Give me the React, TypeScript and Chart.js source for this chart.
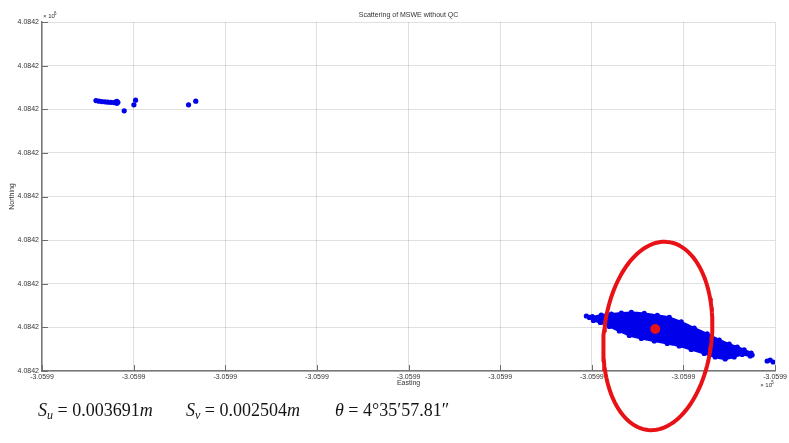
import React, { useEffect, useRef } from 'react';
import { Chart, registerables } from 'chart.js';

Chart.register(...registerables);

// ---- Text ----
const TITLE = 'Scattering of MSWE without QC';
const X_LABEL = 'Easting';
const Y_LABEL = 'Northing';
const X_EXP = '5';
const Y_EXP = '6';

// ---- Axis ticks (local grid units, labels as printed) ----
const X_TICKS = [0, 1, 2, 3, 4, 5, 6, 7, 8];
const X_TICK_LABELS = ['-3.0599', '-3.0599', '-3.0599', '-3.0599', '-3.0599', '-3.0599', '-3.0599', '-3.0599', '-3.0599'];
const Y_TICKS = [0, 1, 2, 3, 4, 5, 6, 7, 8];
const Y_TICK_LABELS = ['4.0842', '4.0842', '4.0842', '4.0842', '4.0842', '4.0842', '4.0842', '4.0842', '4.0842'];

// ---- Upper-left stray solutions ----
const STRAY_X = [0.589, 0.621, 0.654, 0.687, 0.719, 0.752, 0.785, 0.807, 0.817, 0.817, 0.828, 0.897, 1.003, 1.021, 1.599, 1.678];
const STRAY_Y = [6.200, 6.186, 6.177, 6.170, 6.163, 6.158, 6.154, 6.170, 6.135, 6.181, 6.158, 5.963, 6.101, 6.209, 6.101, 6.186];

// ---- Main dense cluster outline (clockwise) ----
const CLUSTER_X = [6.005, 6.103, 6.213, 6.322, 6.431, 6.572, 6.714, 6.845, 6.975, 7.117, 7.259, 7.390, 7.499, 7.586, 7.662, 7.738,
  7.728, 7.640, 7.553, 7.455, 7.346, 7.226, 7.084, 6.954, 6.823, 6.681, 6.540, 6.409, 6.300, 6.191, 6.093, 6.017, 6.005];
const CLUSTER_Y = [1.239, 1.284, 1.307, 1.330, 1.342, 1.319, 1.273, 1.227, 1.124, 0.986, 0.849, 0.711, 0.619, 0.550, 0.482, 0.413,
  0.344, 0.378, 0.321, 0.275, 0.321, 0.401, 0.493, 0.573, 0.631, 0.688, 0.745, 0.814, 0.917, 1.021, 1.112, 1.158, 1.239];

// ---- Cluster fringe outliers ----
const FRINGE_X = [5.940, 5.973, 7.564, 7.629, 7.695, 7.749, 7.913, 7.946, 7.978];
const FRINGE_Y = [1.261, 1.227, 0.482, 0.436, 0.401, 0.367, 0.229, 0.252, 0.206];

// ---- Mean position ----
const MEAN_X = [6.692];
const MEAN_Y = [0.963];

// ---- Error ellipse parameters (centre, semi-axis vectors in grid units) ----
const ELLIPSE_CENTER = [6.72, 0.803];
const ELLIPSE_MAJOR = [0.1077, 2.1556];
const ELLIPSE_MINOR = [0.5853, -0.1295];
const ELLIPSE_SEGMENTS = 120;

// ---- Statistics text ----
const SU_VALUE = '0.003691';
const SV_VALUE = '0.002504';
const THETA_VALUE = '4°35′57.81″';

const BLUE = 'rgb(0,0,235)';
const RED = 'rgb(232,18,22)';
const FONT = '"Liberation Sans", Arial, sans-serif';

function pts(xs: number[], ys: number[]) {
  return xs.map((x, i) => ({ x, y: ys[i] }));
}

function ellipsePts() {
  const out: { x: number; y: number }[] = [];
  for (let i = 0; i <= ELLIPSE_SEGMENTS; i++) {
    const t = (i / ELLIPSE_SEGMENTS) * Math.PI * 2;
    out.push({
      x: ELLIPSE_CENTER[0] + Math.cos(t) * ELLIPSE_MAJOR[0] + Math.sin(t) * ELLIPSE_MINOR[0],
      y: ELLIPSE_CENTER[1] + Math.cos(t) * ELLIPSE_MAJOR[1] + Math.sin(t) * ELLIPSE_MINOR[1],
    });
  }
  return out;
}

const annotations = {
  id: 'matlabAnnotations',
  afterDraw(chart: any) {
    const { ctx, chartArea } = chart;
    const { left, right, top, bottom } = chartArea;
    const xs = chart.scales.x;
    const ys = chart.scales.y;
    ctx.save();
    // inward tick marks
    ctx.strokeStyle = '#6e6e6e';
    ctx.lineWidth = 1;
    X_TICKS.forEach((v) => {
      const px = Math.round(xs.getPixelForValue(v)) + 0.5;
      ctx.beginPath();
      ctx.moveTo(px, bottom);
      ctx.lineTo(px, bottom - 6);
      ctx.stroke();
    });
    Y_TICKS.forEach((v) => {
      const py = Math.round(ys.getPixelForValue(v)) + 0.5;
      ctx.beginPath();
      ctx.moveTo(left, py);
      ctx.lineTo(left + 6, py);
      ctx.stroke();
    });
    ctx.fillStyle = '#333';
    ctx.textBaseline = 'middle';
    // title
    ctx.font = `7px ${FONT}`;
    ctx.textAlign = 'center';
    ctx.fillText(TITLE, (left + right) / 2, top - 7);
    // x label
    ctx.fillText(X_LABEL, (left + right) / 2, bottom + 12.5);
    // y label
    ctx.save();
    ctx.translate(12, (top + bottom) / 2);
    ctx.rotate(-Math.PI / 2);
    ctx.fillText(Y_LABEL, 0, 0);
    ctx.restore();
    // exponents
    ctx.textAlign = 'left';
    ctx.font = `6px ${FONT}`;
    ctx.fillText('× 10', left + 1, top - 6);
    ctx.font = `4.5px ${FONT}`;
    ctx.fillText(Y_EXP, left + 12, top - 8.5);
    ctx.font = `6px ${FONT}`;
    ctx.fillText('× 10', right - 15, bottom + 14);
    ctx.font = `4.5px ${FONT}`;
    ctx.fillText(X_EXP, right - 4, bottom + 11.5);
    ctx.restore();
  },
};

export default function App() {
  const ref = useRef<HTMLCanvasElement>(null);
  useEffect(() => {
    const canvas = ref.current;
    if (!canvas) return;
    const chart = new Chart(canvas, {
      type: 'scatter',
      data: {
        datasets: [
          {
            label: 'mean',
            data: pts(MEAN_X, MEAN_Y),
            backgroundColor: RED,
            borderWidth: 0,
            pointRadius: 5,
            order: 0,
          } as any,
          {
            label: 'ellipse',
            data: ellipsePts(),
            showLine: true,
            borderColor: RED,
            borderWidth: 4,
            pointRadius: 0,
            fill: false,
            tension: 0,
            clip: false,
            order: 1,
          } as any,
          {
            label: 'cluster',
            data: pts(CLUSTER_X, CLUSTER_Y),
            showLine: true,
            borderColor: BLUE,
            backgroundColor: BLUE,
            pointBackgroundColor: BLUE,
            borderWidth: 2,
            pointRadius: 2.6,
            pointBorderWidth: 0,
            fill: 'shape',
            tension: 0.2,
            order: 2,
          } as any,
          {
            label: 'fringe',
            data: pts(FRINGE_X, FRINGE_Y),
            backgroundColor: BLUE,
            borderWidth: 0,
            pointRadius: 2.6,
            order: 3,
          } as any,
          {
            label: 'stray',
            data: pts(STRAY_X, STRAY_Y),
            backgroundColor: BLUE,
            borderWidth: 0,
            pointRadius: 2.6,
            order: 4,
          } as any,
        ],
      },
      options: {
        responsive: false,
        animation: false,
        layout: { padding: { left: 0, right: 13, top: 22, bottom: 0 } },
        plugins: {
          legend: { display: false },
          tooltip: { enabled: false },
          title: { display: false },
        },
        scales: {
          x: {
            type: 'linear',
            min: 0,
            max: 8,
            afterBuildTicks: (s: any) => {
              s.ticks = X_TICKS.map((v) => ({ value: v }));
            },
            ticks: {
              callback: (_v: any, i: number) => X_TICK_LABELS[i],
              font: { size: 7, family: FONT },
              color: '#333',
              padding: 2,
              maxRotation: 0,
              autoSkip: false,
            },
            grid: { color: 'rgba(0,0,0,0.12)', drawTicks: false, lineWidth: 1 },
            border: { color: '#777', width: 1.5 },
            afterFit: (s: any) => {
              s.height = 72;
            },
          },
          y: {
            type: 'linear',
            min: 0,
            max: 8,
            afterBuildTicks: (s: any) => {
              s.ticks = Y_TICKS.map((v) => ({ value: v }));
            },
            ticks: {
              callback: (_v: any, i: number) => Y_TICK_LABELS[i],
              font: { size: 7, family: FONT },
              color: '#333',
              padding: 3,
              autoSkip: false,
            },
            grid: { color: 'rgba(0,0,0,0.12)', drawTicks: false, lineWidth: 1 },
            border: { color: '#777', width: 1.5 },
            afterFit: (s: any) => {
              s.width = 42;
            },
          },
        },
      } as any,
      plugins: [annotations],
    });
    return () => chart.destroy();
  }, []);

  const formula: React.CSSProperties = {
    position: 'absolute',
    top: 399,
    fontFamily: '"Liberation Serif", "Times New Roman", serif',
    fontSize: 18,
    lineHeight: '22px',
    color: '#151515',
    whiteSpace: 'nowrap',
  };
  const sub: React.CSSProperties = { fontSize: 12, fontStyle: 'italic', verticalAlign: -3 };

  return (
    <div style={{ position: 'absolute', left: 0, top: 0, width: 789, height: 443, background: '#fff', overflow: 'hidden' }}>
      <canvas ref={ref} width={789} height={443} style={{ display: 'block' }} />
      <div style={{ ...formula, left: 38 }}>
        <i>S</i><span style={sub}>u</span> = {SU_VALUE}<i>m</i>
      </div>
      <div style={{ ...formula, left: 186 }}>
        <i>S</i><span style={sub}>v</span> = {SV_VALUE}<i>m</i>
      </div>
      <div style={{ ...formula, left: 335 }}>
        <i>θ</i> = {THETA_VALUE}
      </div>
    </div>
  );
}
